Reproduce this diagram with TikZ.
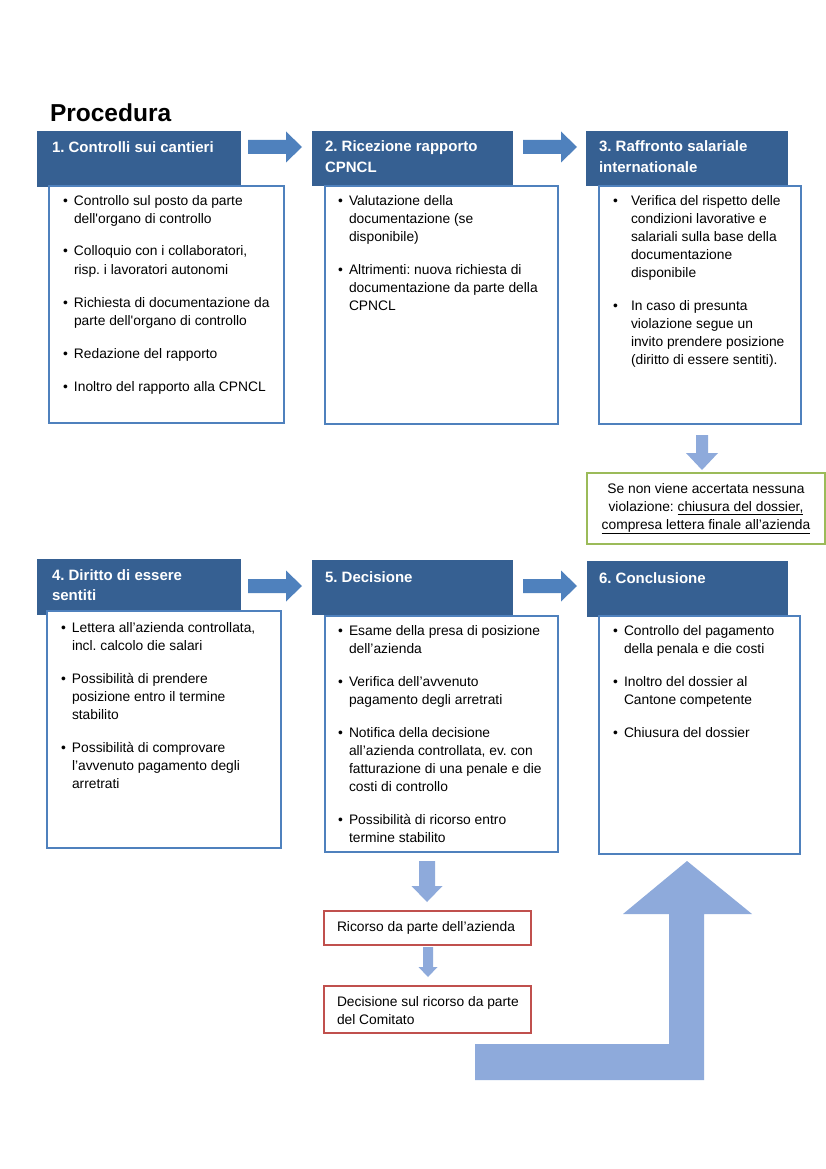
\documentclass[tikz,border=0pt]{standalone}
\usepackage{fontspec}
\setmainfont{Liberation Sans}
\usetikzlibrary{calc}
\frenchspacing
\definecolor{hdrblue}{RGB}{54,96,146}
\definecolor{brdblue}{RGB}{79,129,189}
\definecolor{lightarr}{RGB}{142,170,219}
\definecolor{okgreen}{RGB}{155,187,89}
\definecolor{nored}{RGB}{192,80,77}
\newlength\bind
\newcommand\nl{\hfil\break}
\newcommand\bi[1]{\par\noindent\hangindent=\bind\hangafter=1\makebox[\bind][l]{\textbullet}#1\par}
\newcommand\bodyfont{\fontsize{13.8}{18}\selectfont}
\newcommand\hdrfont{\fontsize{15}{20.5}\selectfont\bfseries}
\newcommand\blist[2]{\begin{minipage}[t]{240pt}\frenchspacing\bodyfont\raggedright\setlength\parskip{15pt}\setlength\bind{#1}#2\end{minipage}}
\newcommand\htext[1]{\begin{minipage}[t]{200pt}\frenchspacing\hdrfont\raggedright #1\end{minipage}}
\newcommand\rarr[1]{\fill[rarrow] (#1) ++(0,-7) -- ++(38,0) -- ++(0,-8.5) -- ++(16,15.5) -- ++(-16,15.5) -- ++(0,-8.5) -- ++(-38,0) -- cycle;}
% start, half shaft, shaft length, half head, head length
\newcommand\darr[5]{\fill[darrow] (#1) ++({-#2},0) -- ++({2*#2},0) -- ++(0,#3) -- ++({#4-#2},0) -- ++({-#4},#5) -- ++({-#4},{-#5}) -- ++({#4-#2},0) -- cycle;}
\begin{document}
\begin{tikzpicture}[x=1pt,y=-1pt,
  hdr/.style={fill=hdrblue, inner sep=0, outer sep=0, anchor=north west},
  body/.style={draw=brdblue, line width=2pt, fill=white, inner sep=0, outer sep=0, anchor=north west},
  okbox/.style={draw=okgreen, line width=2pt, fill=white, inner sep=0, outer sep=0, anchor=north west},
  appbox/.style={draw=nored, line width=2pt, fill=white, inner sep=0, outer sep=0, anchor=north west},
  txt/.style={inner sep=0, outer sep=0, anchor=base west},
  htxt/.style={txt, text=white},
  rarrow/.style={fill=brdblue},
  darrow/.style={fill=lightarr}]
\useasboundingbox (0,0) rectangle (826,1169);
\fill[white] (0,0) rectangle (826,1169);

\node[txt] (title) at (50,122) {\fontsize{24.5}{29}\selectfont\bfseries Procedura};

% row 1
\node[hdr, minimum width=204pt, minimum height=56pt] (h1) at (37,131) {};
\node[body, minimum width=235pt, minimum height=237pt] (b1) at (49,186) {};
\node[htxt] (ht1) at (52,153) {\htext{1. Controlli sui cantieri}};
\node[txt] (bt1) at (63,205) {\blist{11pt}{%
\bi{Controllo sul posto da parte\nl dell\textquotesingle organo di controllo}
\bi{Colloquio con i collaboratori,\nl risp. i lavoratori autonomi}
\bi{Richiesta di documentazione da\nl parte dell\textquotesingle organo di controllo}
\bi{Redazione del rapporto}
\bi{Inoltro del rapporto alla CPNCL}}};

\node[hdr, minimum width=201pt, minimum height=55pt] (h2) at (312,131) {};
\node[body, minimum width=233pt, minimum height=238pt] (b2) at (325,186) {};
\node[htxt] (ht2) at (325,152) {\htext{2. Ricezione rapporto\\CPNCL}};
\node[txt] (bt2) at (338,205) {\blist{11pt}{%
\bi{Valutazione della\nl documentazione (se\nl disponibile)}
\bi{Altrimenti: nuova richiesta di\nl documentazione da parte della\nl CPNCL}}};

\node[hdr, minimum width=202pt, minimum height=55pt] (h3) at (586,131) {};
\node[body, minimum width=202pt, minimum height=238pt] (b3) at (599,186) {};
\node[htxt] (ht3) at (599,152) {\htext{3. Raffronto salariale\\internationale}};
\node[txt] (bt3) at (613,205) {\blist{18pt}{%
\bi{Verifica del rispetto delle\nl condizioni lavorative e\nl salariali sulla base della\nl documentazione\nl disponibile}
\bi{In caso di presunta\nl violazione segue un\nl invito prendere posizione\nl (diritto di essere sentiti).}}};

\rarr{$(h1.north east)+(7,16)$}
\rarr{$(h2.north east)+(10,16)$}

% green box
\darr{$(b3.south)+(2,11)$}{6}{18}{16}{17}
\node[okbox, minimum width=238pt, minimum height=71pt] (ok) at (587,473) {};
\node[inner sep=0, outer sep=0, anchor=base] (okt) at (706,493) {\begin{minipage}[t]{236pt}\bodyfont\centering Se non viene accertata nessuna\\violazione: \underline{chiusura del dossier,}\\\underline{compresa lettera finale all’azienda}\end{minipage}};

% row 2
\node[hdr, minimum width=204pt, minimum height=56pt] (h4) at (37,559) {};
\node[body, minimum width=234pt, minimum height=237pt] (b4) at (47,611) {};
\node[htxt] (ht4) at (52,580) {\htext{4. Diritto di essere\\sentiti}};
\node[txt] (bt4) at (61,632) {\blist{11pt}{%
\bi{Lettera all’azienda controllata,\nl incl. calcolo die salari}
\bi{Possibilità di prendere\nl posizione entro il termine\nl stabilito}
\bi{Possibilità di comprovare\nl l’avvenuto pagamento degli\nl arretrati}}};

\node[hdr, minimum width=201pt, minimum height=55pt] (h5) at (312,560) {};
\node[body, minimum width=233pt, minimum height=236pt] (b5) at (325,616) {};
\node[htxt] (ht5) at (325,582) {\htext{5. Decisione}};
\node[txt] (bt5) at (338,635) {\blist{11pt}{%
\bi{Esame della presa di posizione\nl dell’azienda}
\bi{Verifica dell’avvenuto\nl pagamento degli arretrati}
\bi{Notifica della decisione\nl all’azienda controllata, ev. con\nl fatturazione di una penale e die\nl costi di controllo}
\bi{Possibilità di ricorso entro\nl termine stabilito}}};

\node[hdr, minimum width=201pt, minimum height=56pt] (h6) at (587,561) {};
\node[body, minimum width=201pt, minimum height=238pt] (b6) at (599,616) {};
\node[htxt] (ht6) at (599,583) {\htext{6. Conclusione}};
\node[txt] (bt6) at (613,635) {\blist{11pt}{%
\bi{Controllo del pagamento\nl della penala e die costi}
\bi{Inoltro del dossier al\nl Cantone competente}
\bi{Chiusura del dossier}}};

\rarr{$(h4.north east)+(7,27)$}
\rarr{$(h5.north east)+(10,26)$}

% appeal
\darr{$(b5.south)+(-14.5,9)$}{8}{25}{15.5}{16}
\node[appbox, minimum width=207pt, minimum height=34pt] (r1) at (324,911) {};
\node[txt] (rt1) at (337,931) {\bodyfont Ricorso da parte dell’azienda};
\darr{$(r1.south)+(0.5,2)$}{5}{20}{9.5}{10}
\node[appbox, minimum width=207pt, minimum height=47pt] (r2) at (324,986) {};
\node[txt] (rt2) at (337,1006) {\begin{minipage}[t]{200pt}\bodyfont\raggedright Decisione sul ricorso da parte\\del Comitato\end{minipage}};

% big return arrow
\fill[darrow] ($(b6.south)+(-12.5,7)$) -- ++(65,53) -- ++(-48,0) -- ++(0,166) -- ++(-229,0) -- ++(0,-36) -- ++(194,0) -- ++(0,-130) -- ++(-46,0) -- cycle;
\end{tikzpicture}
\end{document}
